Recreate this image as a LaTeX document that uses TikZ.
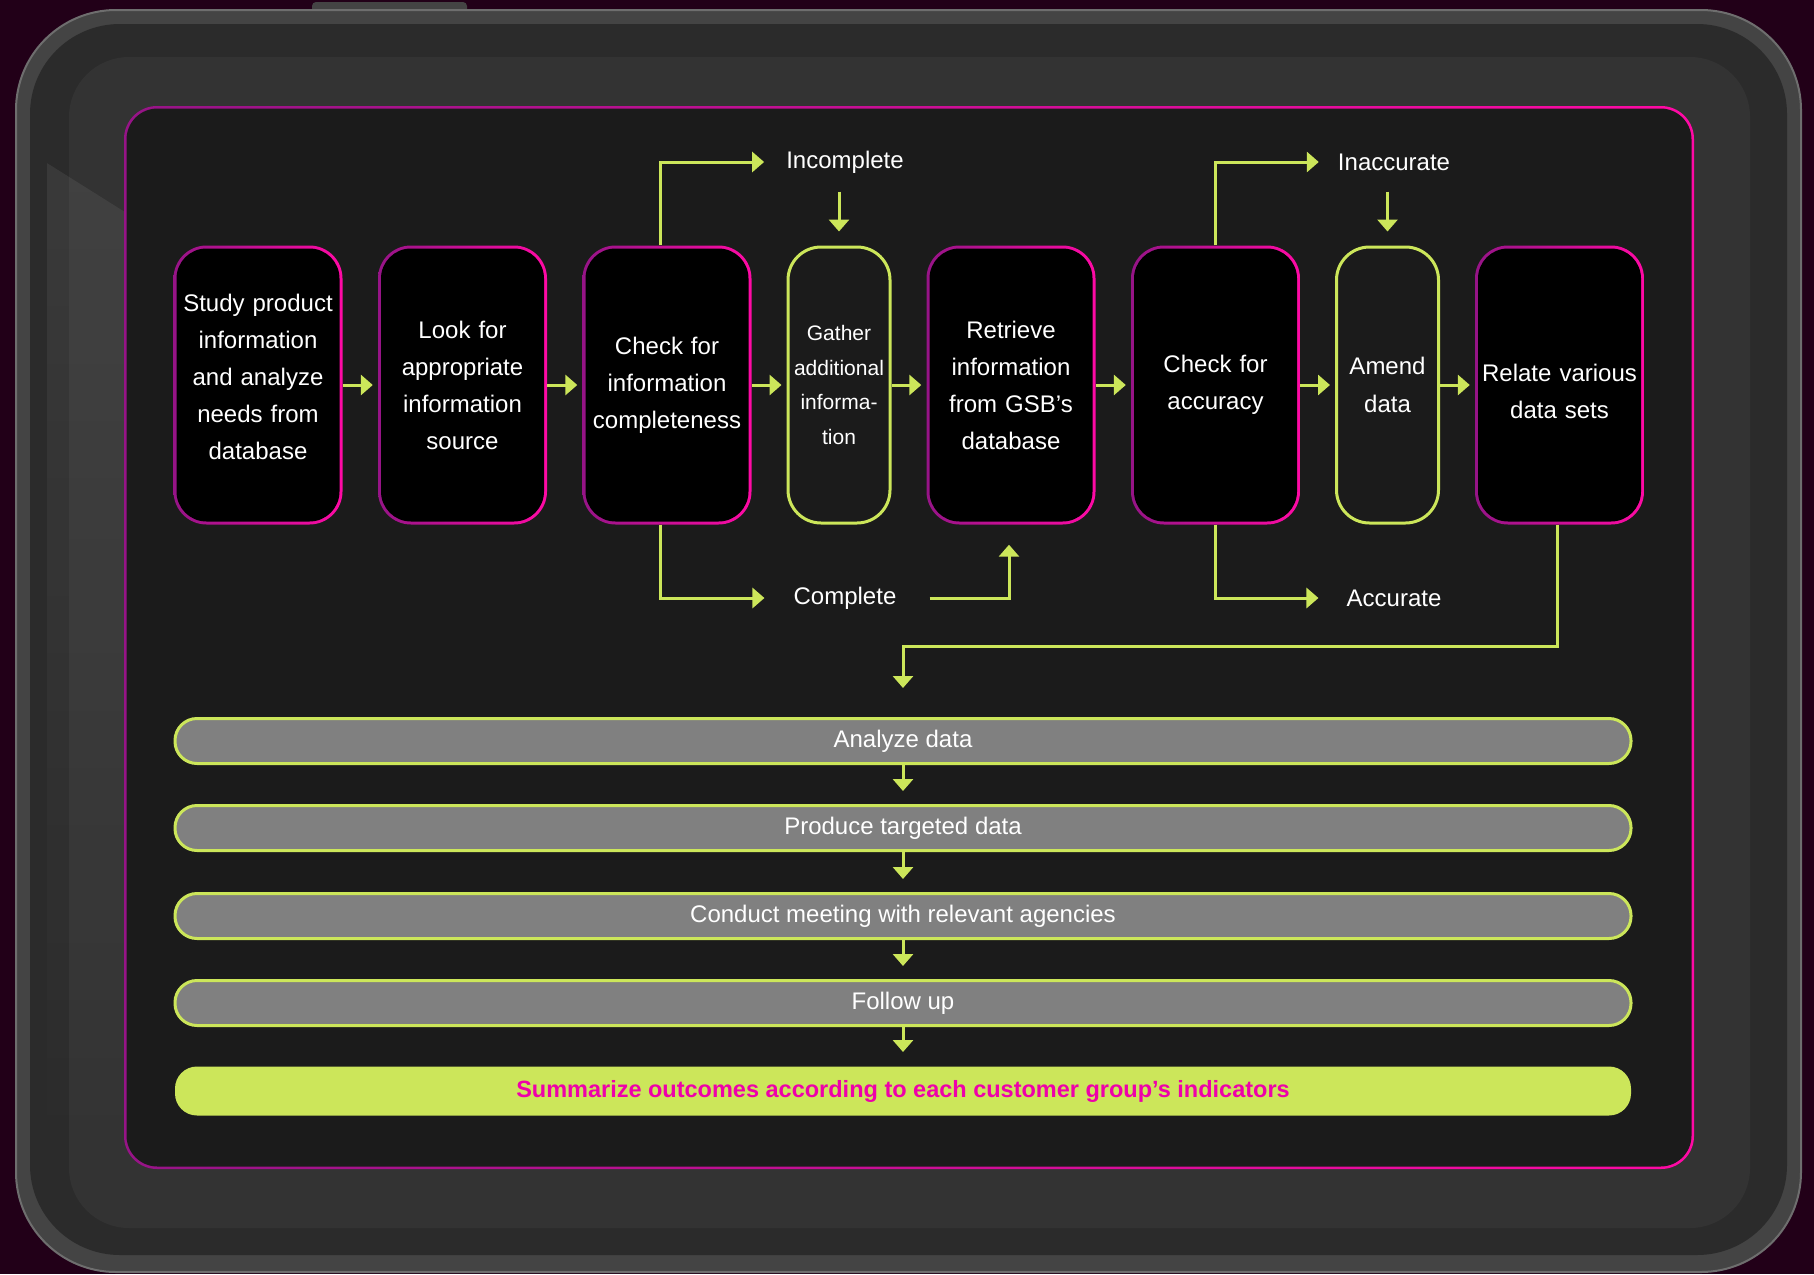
\documentclass[tikz,border=0pt]{standalone}
\usepackage{fontspec}
\setmainfont{Liberation Sans}
\usetikzlibrary{arrows.meta,positioning,fadings}

\definecolor{lime}{RGB}{204,230,90}
\definecolor{hotpink}{RGB}{255,10,165}
\definecolor{plum}{RGB}{150,20,135}
\definecolor{sumpink}{RGB}{238,0,170}
\definecolor{panel}{RGB}{27,27,27}
\definecolor{screen}{RGB}{51,51,51}
\definecolor{bezel}{RGB}{43,43,43}
\definecolor{rim}{RGB}{68,68,68}
\definecolor{rimedge}{RGB}{110,110,110}
\definecolor{backdrop}{RGB}{34,0,24}
\definecolor{bargray}{RGB}{128,128,128}

\tikzset{
  stepbox/.style={rounded corners=33pt, minimum width=169pt, minimum height=279pt,
    text width=160pt, inner sep=2pt, align=center, text=white,
    font=\fontsize{24}{37}\selectfont, left color=plum, right color=hotpink,
    path picture={\fill[black, rounded corners=30pt]
      ([shift={(3pt,-3pt)}]path picture bounding box.north west) rectangle
      ([shift={(-3pt,3pt)}]path picture bounding box.south east);}},
  sidebox/.style={rounded corners=33pt, minimum width=101pt, minimum height=276pt,
    text width=100pt, inner sep=1pt, align=center, text=white,
    draw=lime, line width=3pt, fill=panel},
  bar/.style={rounded corners=22pt, minimum width=1456pt, minimum height=45pt,
    inner sep=0pt, fill=bargray, draw=lime, line width=3pt, text=white,
    font=\fontsize{24}{28}\selectfont},
  lbl/.style={text=white, inner sep=0pt, font=\fontsize{24}{28}\selectfont},
  conn/.style={draw=lime, line width=3pt, -{Triangle[width=20pt,length=12pt]}},
}

% lift or drop a block of lines inside a box
\newcommand{\nudge}[2]{\raisebox{#1}[0pt][0pt]{\parbox{160pt}{\centering #2}}}

\begin{document}
\begin{tikzpicture}[x=1pt, y=-1pt]
    \useasboundingbox (0,0) rectangle (1814,1274);
    \fill[backdrop] (0,0) rectangle (1814,1274);

    % Tablet body
    \fill[rim, rounded corners=4pt] (312,2) rectangle (467,16);
    \fill[rim, draw=rimedge, line width=2pt, rounded corners=100pt] (16,10) rectangle (1801,1272);
    \fill[bezel, rounded corners=90pt] (30,24) rectangle (1787,1255);
    \fill[screen, rounded corners=60pt] (69,57) rectangle (1750,1228);
    \fill[white, opacity=0.07, path fading=south] (47,163) -- (125,212) -- (125,1200) -- (47,1200) -- cycle;

    % Framed panel
    \shade[left color=plum, right color=hotpink, rounded corners=33pt] (124,106) rectangle (1694,1169);
    \fill[panel, rounded corners=31pt] (126.5,108.5) rectangle (1691.5,1166.5);

    % Process steps
    \node[stepbox] (b1) at (258,385) {\nudge{2pt}{Study product\\information\\and analyze\\needs from\\database}};
    \node[stepbox] (b2) at (462.5,385) {Look for\\appropriate\\information\\source};
    \node[stepbox] (b3) at (667,385) {Check for\\information\\completeness};
    \node[sidebox, font=\fontsize{21}{34.5}\selectfont] (gather) at (839,385) {Gather\\additional\\informa-\\tion};
    \node[stepbox] (ret) at (1011,385) {Retrieve\\information\\from GSB’s\\database};
    \node[stepbox] (chk) at (1215.5,385) {Check for\\accuracy};
    \node[sidebox, font=\fontsize{24}{38}\selectfont] (amend) at (1387.5,385) {Amend\\data};
    \node[stepbox] (rel) at (1559.5,385) {\nudge{-13pt}{Relate various\\data sets}};

    \foreach \a/\b in {b1/b2, b2/b3, b3/gather, gather/ret, ret/chk, chk/amend, amend/rel}
        \draw[conn, shorten >=5pt] (\a.east) -- (\b.west);

    % Branch labels
    \node[lbl] (inc) at (845,162) {Incomplete};
    \node[lbl] (comp) at (845,598) {Complete};
    \node[lbl] (inacc) at (1394,162) {Inaccurate};
    \node[lbl] (acc) at (1394,598) {Accurate};

    \draw[conn, shorten >=22pt] ([xshift=-7pt]b3.north) |- (inc.west);
    \draw[conn, shorten >=14pt] ([yshift=54pt]gather.north) -- (gather.north);
    \draw[conn, shorten >=29pt] ([xshift=-7pt]b3.south) |- (comp.west);
    \draw[conn, shorten <=33pt, shorten >=20pt] (comp.east) -| ([xshift=-2pt]ret.south);

    \draw[conn, shorten >=19pt] (chk.north) |- (inacc.west);
    \draw[conn, shorten >=14pt] ([yshift=54pt]amend.north) -- (amend.north);
    \draw[conn, shorten >=28pt] (chk.south) |- (acc.west);

    % Follow-up stages
    \node[bar] (analyze) at (903,741) {Analyze data};
    \node[bar] (produce) at (903,828) {Produce targeted data};
    \node[bar] (meet) at (903,916) {Conduct meeting with relevant agencies};
    \node[bar] (follow) at (903,1003) {Follow up};
    \node[bar, fill=lime, draw=none, minimum height=49pt, text=sumpink,
          font=\bfseries\fontsize{23.5}{27}\selectfont] (summ) at (903,1091)
          {Summarize outcomes according to each customer group’s indicators};

    \coordinate (turn) at (903,646);
    \draw[conn, shorten >=29pt] ([xshift=-2pt]rel.south) |- (turn) -- (analyze.north);
    \foreach \a/\b in {analyze/produce, produce/meet, meet/follow, follow/summ}
        \draw[conn, shorten >=13pt] (\a.south) -- (\b.north);
\end{tikzpicture}
\end{document}
